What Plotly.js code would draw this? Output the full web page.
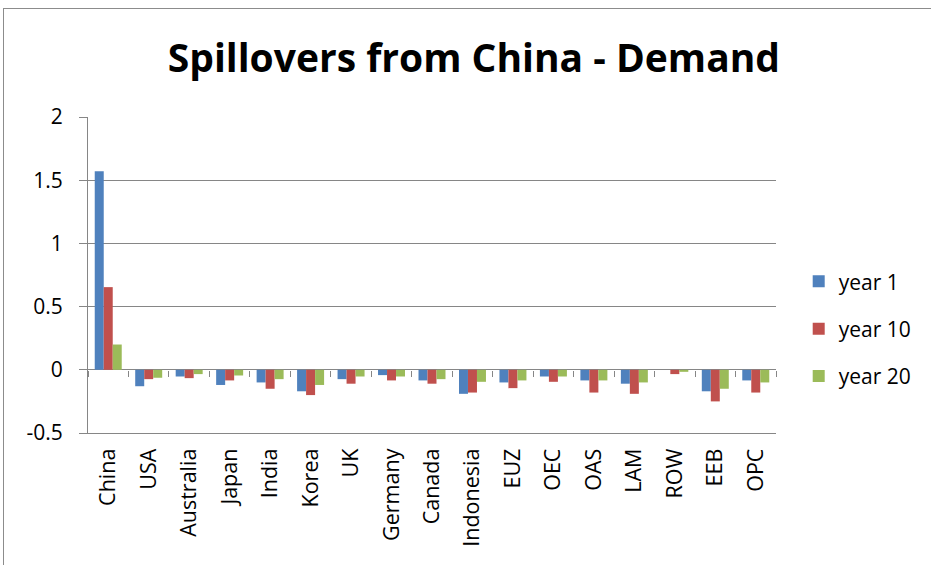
<!DOCTYPE html>
<html>
<head>
<meta charset="utf-8">
<script src="https://cdn.plot.ly/plotly-3.0.1.min.js"></script>
<style>
html,body{margin:0;padding:0;background:#fff;}
#wrap{position:relative;width:931px;height:565px;overflow:hidden;}
#chart{width:931px;height:565px;}
#frame{position:absolute;left:3px;top:8px;width:960px;height:600px;border:1px solid #8c8c8c;pointer-events:none;}
</style>
</head>
<body>
<div id="wrap"><div id="chart"></div><div id="frame"></div></div>
<script>
const categories = ["China","USA","Australia","Japan","India","Korea","UK","Germany","Canada","Indonesia","EUZ","OEC","OAS","LAM","ROW","EEB","OPC"];
const year1  = [1.57,-0.13,-0.053,-0.12,-0.10,-0.17,-0.074,-0.042,-0.084,-0.19,-0.10,-0.053,-0.084,-0.11,0.0,-0.17,-0.084];
const year10 = [0.654,-0.074,-0.066,-0.084,-0.15,-0.20,-0.11,-0.084,-0.11,-0.18,-0.145,-0.095,-0.18,-0.19,-0.034,-0.25,-0.18];
const year20 = [0.20,-0.063,-0.034,-0.045,-0.074,-0.12,-0.053,-0.053,-0.074,-0.095,-0.084,-0.053,-0.084,-0.10,-0.016,-0.15,-0.10];
const seriesNames = ["year 1","year 10","year 20"];
const yTickVals = [-0.5,0,0.5,1,1.5,2];
const yTickText = ["-0.5","0","0.5","1","1.5","2"];

const colors = ["#4F81BD","#C0504D","#9BBB59"];
const font = "'Open Sans', Lato, sans-serif";
const grid = "#868686";

const data = [year1, year10, year20].map((vals, i) => ({
  type: "bar", x: categories, y: vals, name: seriesNames[i],
  legendgroup: "g" + i,
  marker: {color: colors[i], line: {width: 0}},
  hoverinfo: "x+y+name"
}));
// invisible trace carrying the category axis that draws tick marks on the zero line
data.push({type: "scatter", x: categories, y: categories.map(() => 0), xaxis: "x2", mode: "markers",
  marker: {opacity: 0}, showlegend: false, hoverinfo: "skip"});

const layout = {
  width: 931, height: 565,
  margin: {l: 88, r: 155, t: 117, b: 132},
  paper_bgcolor: "#fff", plot_bgcolor: "#fff",
  title: {text: "<b>Spillovers from China - Demand</b>", x: 0.509, xanchor: "center", y: 0.897, yanchor: "middle",
    font: {family: font, size: 39, color: "#000"}},
  barmode: "group", bargap: 0.333, bargroupgap: 0,
  xaxis: {type: "category", range: [-0.5, 16.5], showgrid: false, zeroline: false,
    showline: true, linecolor: grid, linewidth: 1, ticks: "", tickangle: -90,
    ticklabelstandoff: 6,
    tickfont: {family: font, size: 21.5, color: "#000"}},
  xaxis2: {type: "category", overlaying: "x", anchor: "free", position: 0.2, matches: "x",
    showgrid: false, zeroline: false, showline: false, ticks: "outside", ticklen: 6,
    tickcolor: grid, tickwidth: 1, tickson: "boundaries", showticklabels: false},
  yaxis: {range: [-0.5, 2], tickvals: yTickVals, ticktext: yTickText,
    showgrid: true, gridcolor: grid, gridwidth: 1,
    zeroline: true, zerolinecolor: grid, zerolinewidth: 1,
    showline: true, linecolor: grid, linewidth: 1,
    ticks: "outside", ticklen: 8, tickcolor: grid, ticklabelstandoff: 12,
    tickfont: {family: font, size: 21, color: "#000"}},
  legend: {x: 1.033, xanchor: "left", y: 0.33, yanchor: "middle",
    font: {family: font, size: 21, color: "#000"}, tracegroupgap: 17,
    bgcolor: "rgba(0,0,0,0)"},
  showlegend: true
};

Plotly.newPlot("chart", data, layout, {displayModeBar: false, staticPlot: true});
</script>
</body>
</html>
